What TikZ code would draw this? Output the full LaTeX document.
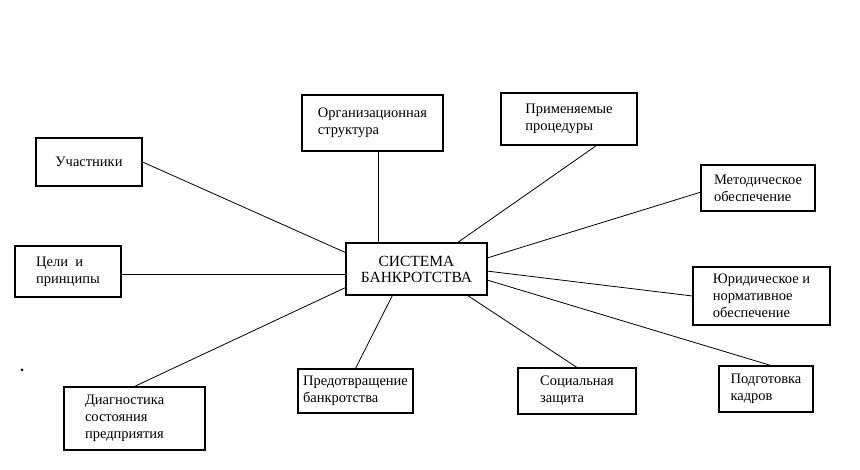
\documentclass[tikz,border=0pt]{standalone}
\usepackage{fontspec}
\setmainfont{Liberation Serif}
\usetikzlibrary{calc}
\tikzset{
  box/.style={draw, line width=1.1pt, inner sep=0pt, align=left,
    font=\fontsize{14.5pt}{17pt}\selectfont},
  mainbox/.style={draw, line width=1.1pt, inner sep=0pt, align=center,
    font=\fontsize{15.5pt}{16pt}\selectfont},
  link/.style={line width=0.8pt}
}
\begin{document}
\begin{tikzpicture}[x=1pt,y=-1pt]
\useasboundingbox (0,0) rectangle (860,470);
% centre
\node[mainbox, minimum width=141pt, minimum height=52pt] (c) at (416.5,269) {СИСТЕМА\\БАНКРОТСТВА};
% outer boxes
\node[box, minimum width=141pt, minimum height=56pt] (org) at (372.5,123) {Организационная\\структура};
\node[box, minimum width=136pt, minimum height=52pt] (prim) at (569,119) {Применяемые\\процедуры};
\node[box, minimum width=106pt, minimum height=48pt] (uch) at (89,162) {Участники};
\node[box, minimum width=114pt, minimum height=46pt] (met) at (758,188) {Методическое\\обеспечение};
\node[box, minimum width=106pt, minimum height=51pt] (celi) at (68,271.5) {Цели\ \ и\\принципы};
\node[box, minimum width=137pt, minimum height=58pt] (yur) at (761.5,296) {Юридическое и\\нормативное\\обеспечение};
\node[box, inner xsep=21pt, text width=99pt, minimum height=63pt] (diag) at (134.5,418.5) {Диагностика\\состояния\\предприятия};
\node[box, minimum width=115pt, minimum height=44pt] (pred) at (355.5,391) {Предотвращение\\банкротства};
\node[box, minimum width=118pt, minimum height=46pt] (soc) at (577,391) {Социальная\\защита};
\node[box, minimum width=94pt, minimum height=46pt] (podg) at (766,389) {Подготовка\\кадров};
% connectors
\coordinate (orgp) at ($(org.south west)!0.54!(org.south east)$);
\draw[link] (orgp) -- (orgp |- c.north);
\draw[link] ($(prim.south west)!0.70!(prim.south east)$) -- ($(c.north west)!0.79!(c.north east)$);
\draw[link] (uch.east) -- ($(c.north west)!0.19!(c.south west)$);
\coordinate (celip) at ($(c.north west)!0.6!(c.south west)$);
\draw[link] (celip -| celi.east) -- (celip);
\draw[link] (diag.north) -- ($(c.north west)!0.85!(c.south west)$);
\draw[link] (pred.north) -- ($(c.south west)!0.33!(c.south east)$);
\draw[link] (soc.north) -- ($(c.south west)!0.86!(c.south east)$);
\draw[link] ($(podg.north west)!0.55!(podg.north east)$) -- ($(c.north east)!0.71!(c.south east)$);
\draw[link] (yur.west) -- ($(c.north east)!0.54!(c.south east)$);
\draw[link] ($(met.north west)!0.59!(met.south west)$) -- ($(c.north east)!0.29!(c.south east)$);
% speck
\fill (22,370) circle (1.5pt);
\end{tikzpicture}
\end{document}
